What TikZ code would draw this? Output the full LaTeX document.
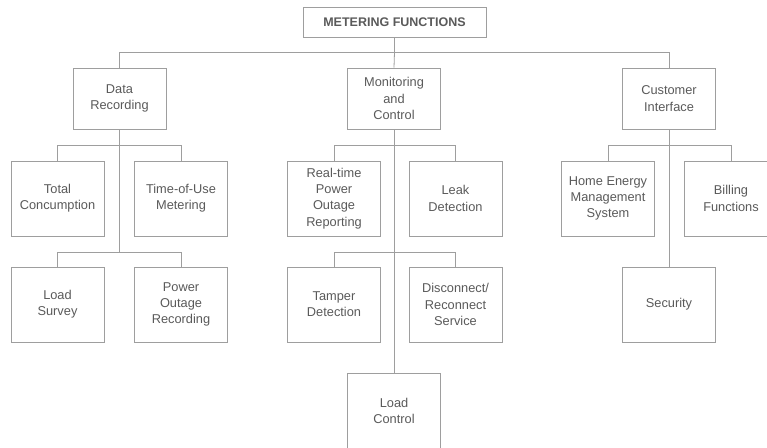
\documentclass[tikz,border=0pt]{standalone}
\usepackage{fontspec}
\setmainfont{Liberation Sans}
\definecolor{txt}{HTML}{5A5A5A}
\definecolor{ln}{HTML}{9E9E9E}
\begin{document}
\begin{tikzpicture}[x=1pt,y=-1pt,
  box/.style={draw=ln,line width=0.8pt,rectangle,minimum width=93pt,minimum height=75pt,inner sep=1pt,align=center,text=txt,font=\fontsize{12.8}{16.3}\selectfont},
  l1/.style={box,minimum height=61pt},
  conn/.style={draw=ln,line width=0.8pt}]
\useasboundingbox (0,0) rectangle (767,447);
\fill[white] (0,0) rectangle (767,447);
\node[draw=ln,line width=0.8pt,minimum width=183pt,minimum height=30pt,text=txt,font=\fontsize{12.5}{15}\selectfont\bfseries] (top) at (394.5,22) {METERING FUNCTIONS};
\node[l1] (dr) at (119.5,98.5) {Data\\Recording};
\node[l1] (mc) at (394,98.5) {Monitoring\\and\\Control};
\node[l1] (ci) at (669,98.5) {Customer\\Interface};
\node[box] (tc) at (57.5,198.5) {Total\\Concumption};
\node[box] (tou) at (181,198.5) {Time-of-Use\\Metering};
\node[box] (ls) at (57.5,304.5) {Load\\Survey};
\node[box] (por) at (181,304.5) {Power\\Outage\\Recording};
\node[box] (rt) at (334,198.5) {Real-time\\Power\\Outage\\Reporting};
\node[box] (ld) at (455.5,198.5) {Leak\\Detection};
\node[box] (td) at (334,304.5) {Tamper\\Detection};
\node[box] (drs) at (455.5,304.5) {Disconnect/\\Reconnect\\Service};
\node[box] (lc) at (394,411) {Load\\Control};
\node[box] (hems) at (608,198.5) {Home Energy\\Management\\System};
\node[box] (bf) at (731,198.5) {Billing\\Functions};
\node[box] (sec) at (669,304.5) {Security};
% top bus
\coordinate (b0) at (394.5,52);
\draw[conn] (top.south) -- (b0);
\draw[conn] (b0) -| (dr.north);
\draw[conn] (b0) -| (ci.north);
\draw[conn] (b0) -- (mc.north);
% data recording
\coordinate (d1) at (119.5,145);
\coordinate (d2) at (119.5,252);
\draw[conn] (dr.south) -- (d2);
\draw[conn] (d1) -| (tc.north);
\draw[conn] (d1) -| (tou.north);
\draw[conn] (d2) -| (ls.north);
\draw[conn] (d2) -| (por.north);
% monitoring
\coordinate (m1) at (394,145);
\coordinate (m2) at (394,252);
\draw[conn] (mc.south) -- (lc.north);
\draw[conn] (m1) -| (rt.north);
\draw[conn] (m1) -| (ld.north);
\draw[conn] (m2) -| (td.north);
\draw[conn] (m2) -| (drs.north);
% customer
\coordinate (c1) at (669,145);
\draw[conn] (ci.south) -- (sec.north);
\draw[conn] (c1) -| (hems.north);
\draw[conn] (c1) -| (bf.north);
\end{tikzpicture}
\end{document}
